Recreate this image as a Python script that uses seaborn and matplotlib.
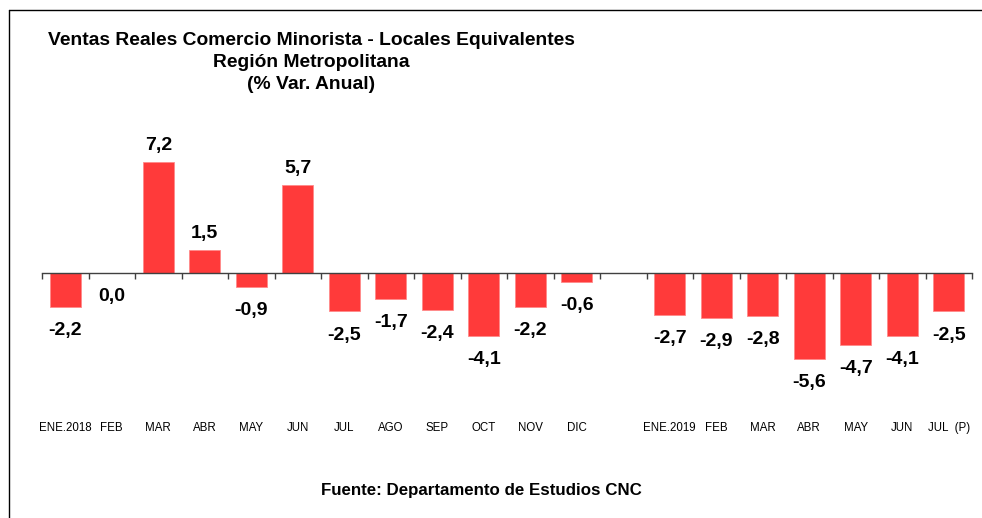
import pandas as pd
import matplotlib
matplotlib.use('Agg')
import matplotlib.pyplot as plt
import seaborn as sns
from matplotlib.lines import Line2D
from matplotlib.transforms import blended_transform_factory

# data
keys = ['ENE.2018', 'FEB.2018', 'MAR.2018', 'ABR.2018', 'MAY.2018', 'JUN.2018',
        'JUL.2018', 'AGO.2018', 'SEP.2018', 'OCT.2018', 'NOV.2018', 'DIC.2018',
        'ENE.2019', 'FEB.2019', 'MAR.2019', 'ABR.2019', 'MAY.2019', 'JUN.2019',
        'JUL.2019']
values = [-2.2, 0.0, 7.2, 1.5, -0.9, 5.7, -2.5, -1.7, -2.4, -4.1, -2.2, -0.6,
          -2.7, -2.9, -2.8, -5.6, -4.7, -4.1, -2.5]
tick_labels = ['ENE.2018', 'FEB', 'MAR', 'ABR', 'MAY', 'JUN', 'JUL', 'AGO', 'SEP',
               'OCT', 'NOV', 'DIC', '', 'ENE.2019', 'FEB', 'MAR', 'ABR', 'MAY',
               'JUN', 'JUL  (P)']
order = keys[:12] + ['gap'] + keys[12:]

title_lines = ['Ventas Reales Comercio Minorista - Locales Equivalentes',
               'Región Metropolitana',
               '(% Var. Anual)']
source = 'Fuente: Departamento de Estudios CNC'

sns.set_style('white')
plt.rcParams['font.family'] = ['Liberation Sans', 'DejaVu Sans']
plt.rcParams['text.color'] = 'black'

W, H = 982, 518
fig = plt.figure(figsize=(W / 100, H / 100), dpi=100)
ax = fig.add_axes([42 / W, (H - 440) / H, 930 / W, 340 / H])

df = pd.DataFrame({'key': keys, 'val': values})
sns.barplot(data=df, x='key', y='val', order=order, color='#ff3a3a',
            saturation=1, width=0.67, edgecolor='#ff8a8a', linewidth=0.6,
            errorbar=None, ax=ax)

ax.set_ylim(-10.85, 11.23)
ax.set_xlim(-0.5, len(order) - 0.5)
ax.set_xlabel('')
ax.set_ylabel('')
ax.set_yticks([])
for s in ['top', 'right', 'left']:
    ax.spines[s].set_visible(False)
ax.spines['bottom'].set_position(('data', 0))
ax.spines['bottom'].set_color('#404040')
ax.spines['bottom'].set_linewidth(1.0)
ax.set_xticks([i - 0.5 for i in range(len(order) + 1)])
ax.set_xticklabels([])
ax.tick_params(axis='x', bottom=True, direction='out', length=4, width=1,
               color='#404040')

# value labels
pos = {k: i for i, k in enumerate(order)}
for k, v in zip(keys, values):
    txt = f'{v:.1f}'.replace('.', ',')
    off = 12 if v > 0 else -17
    ax.annotate(txt, (pos[k], v), xytext=(0, off), textcoords='offset points',
                ha='center', va='center', fontsize=14, fontweight='bold',
                color='black')

# category labels
tr = blended_transform_factory(ax.transData, fig.transFigure)
for i, lab in enumerate(tick_labels):
    ax.text(i, 1 - 428 / H, lab, transform=tr, ha='center', va='center',
            fontsize=8.3, color='black')

# title, one line at a time
for j, line in enumerate(title_lines):
    fig.text(311 / W, 1 - (45 + 22 * j) / H, line, ha='center', va='baseline',
             fontsize=13.9, fontweight='bold', color='black')
fig.text(481 / W, 1 - 490 / H, source, ha='center', va='center', fontsize=12.2,
         fontweight='bold', color='black')

# frame lines
fig.add_artist(Line2D([9 / W, 9 / W], [0, 1 - 10 / H], color='black', lw=1))
fig.add_artist(Line2D([9 / W, 1], [1 - 10 / H, 1 - 10 / H], color='black', lw=1))

fig.savefig('out.png', dpi=100)
